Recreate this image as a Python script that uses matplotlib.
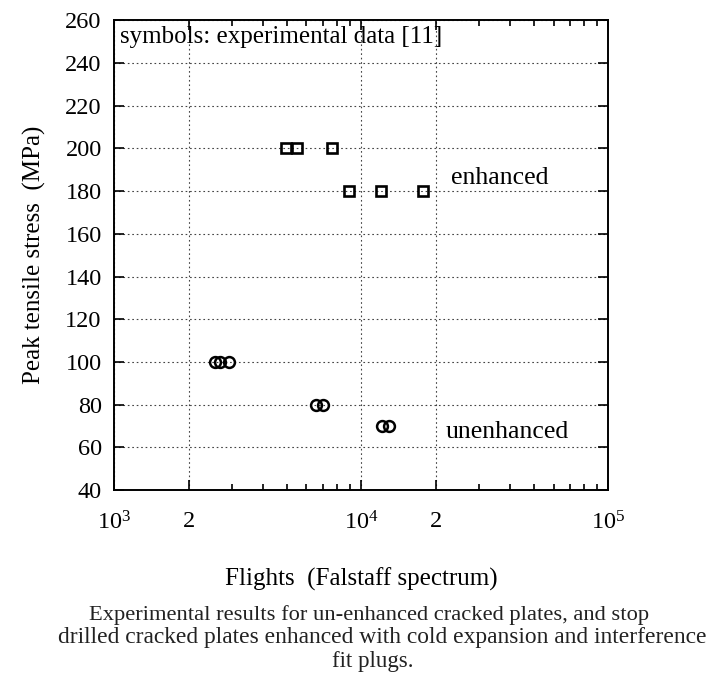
import matplotlib
matplotlib.use('Agg')
import matplotlib.pyplot as plt
from matplotlib.ticker import FixedLocator, FixedFormatter, NullFormatter

plt.rcParams['font.family'] = ['Liberation Serif', 'DejaVu Serif']
plt.rcParams['mathtext.fontset'] = 'custom'
plt.rcParams['mathtext.rm'] = 'Liberation Serif'
plt.rcParams['mathtext.it'] = 'Liberation Serif:italic'

# enhanced plates (squares)
enh_flights = [4950, 5500, 7600, 8950, 12000, 17800]
enh_stress = [200, 200, 200, 180, 180, 180]

# unenhanced plates (circles)
unenh_flights = [2560, 2690, 2920, 6570, 7020, 12160, 12980]
unenh_stress = [100, 100, 100, 80, 80, 70, 70]

x_major = [1e3, 2e3, 1e4, 2e4, 1e5]
x_major_labels = ['$10^3$', '2', '$10^4$', '2', '$10^5$']
x_minor = [3e3, 4e3, 5e3, 6e3, 7e3, 8e3, 9e3, 3e4, 4e4, 5e4, 6e4, 7e4, 8e4, 9e4]
y_ticks = list(range(40, 261, 20))

fig = plt.figure(figsize=(7.09, 6.75), dpi=100)
ax = fig.add_axes([0.161, 0.274, 0.697, 0.696])

ax.plot(enh_flights, enh_stress, ls='none', marker='s', ms=7.5, mfc='none',
        mec='black', mew=1.9, zorder=4)
ax.plot(unenh_flights, unenh_stress, ls='none', marker='o', ms=7.8, mfc='none',
        mec='black', mew=1.8, zorder=4)

ax.set_xscale('log')
ax.set_xlim(1e3, 1e5)
ax.set_ylim(40, 260)

ax.xaxis.set_major_locator(FixedLocator(x_major))
ax.xaxis.set_major_formatter(FixedFormatter(x_major_labels))
ax.xaxis.set_minor_locator(FixedLocator(x_minor))
ax.xaxis.set_minor_formatter(NullFormatter())
ax.set_yticks(y_ticks)

ax.tick_params(which='both', direction='in', top=True, right=True,
               labelsize=17.5, width=1.2)
ax.tick_params(which='major', length=7)
ax.tick_params(which='minor', length=4)
ax.tick_params(axis='x', pad=15)
ax.tick_params(axis='y', pad=9)

ax.grid(True, which='major', ls=(0, (1.5, 2.5)), color='#444444', lw=0.8)

for s in ax.spines.values():
    s.set_linewidth(1.4)

ax.set_xlabel('Flights  (Falstaff spectrum)', fontsize=18, labelpad=24)
ax.set_ylabel('Peak tensile stress  (MPa)', fontsize=18, labelpad=14)

ax.text(0.012, 0.988, 'symbols: experimental data [11]', transform=ax.transAxes,
        fontsize=18, va='top', ha='left')
ax.text(2.3e4, 186, 'enhanced', fontsize=18.5, va='center', ha='left')
ax.text(2.2e4, 67, 'unenhanced', fontsize=18.5, va='center', ha='left')

fig.text(0.521, 1 - 615 / 675, 'Experimental results for un-enhanced cracked plates, and stop',
         fontsize=16.2, ha='center', va='center', color='#222222')
fig.text(0.539, 1 - 638 / 675, 'drilled cracked plates enhanced with cold expansion and interference',
         fontsize=16.9, ha='center', va='center', color='#222222')
fig.text(0.526, 1 - 662 / 675, 'fit plugs.',
         fontsize=16.5, ha='center', va='center', color='#222222')

fig.savefig('out.png', dpi=100)
